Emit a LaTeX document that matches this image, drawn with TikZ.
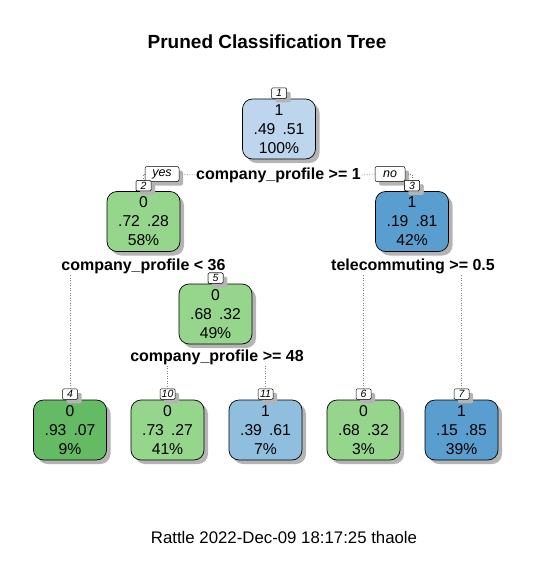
\documentclass[tikz,border=0pt]{standalone}
\usepackage{fontspec}
\setmainfont{Liberation Sans}
\usetikzlibrary{shadows}
\definecolor{bluelight}{RGB}{189,214,238}
\definecolor{bluemid}{RGB}{143,190,222}
\definecolor{bluedark}{RGB}{90,158,207}
\definecolor{greenlight}{RGB}{150,214,140}
\definecolor{greendark}{RGB}{100,187,100}
\definecolor{shadowgray}{RGB}{180,180,180}
\tikzset{
  shad/.style={drop shadow={shadow xshift=4pt, shadow yshift=-4pt, fill=shadowgray, opacity=1}},
  tnode/.style={draw=black, line width=0.7pt, rounded corners=10pt, minimum width=73pt,
    minimum height=60pt, align=center, inner sep=0pt, shad,
    font=\fontsize{15.7}{19}\selectfont},
  numbox/.style={draw=black, line width=0.5pt, fill=white, rounded corners=1.2pt, inner sep=0pt,
    minimum width=15pt, minimum height=10.5pt, anchor=south, shad,
    font=\fontsize{10.5}{10.5}\selectfont\itshape},
  yesno/.style={draw=black, line width=0.5pt, fill=white, rounded corners=2pt, inner sep=0pt,
    minimum height=15pt, font=\fontsize{12.5}{12.5}\selectfont\itshape, shad},
  splitlab/.style={font=\fontsize{16}{17}\selectfont\bfseries, inner sep=1pt},
  conn/.style={draw=gray, line width=0.7pt, dash pattern=on 0.7pt off 1.8pt},
}
\begin{document}
\begin{tikzpicture}[x=1pt,y=-1pt]
\useasboundingbox (0,0) rectangle (534,570);
\node[font=\fontsize{19}{22}\selectfont\bfseries] (title) at (267,42) {Pruned Classification Tree};
\node[font=\fontsize{16.8}{19}\selectfont] (footer) at (284,537) {Rattle 2022-Dec-09 18:17:25 thaole};

% nodes
\node[tnode, fill=bluelight] (n1) at (279,129) {1\\.49\hspace{0.45em}.51\\100\%};
\node[numbox] (k1) at (n1.north) {1};
\node[tnode, fill=greenlight] (n2) at (143.5,221.5) {0\\.72\hspace{0.45em}.28\\58\%};
\node[numbox] (k2) at (n2.north) {2};
\node[tnode, fill=bluedark] (n3) at (412,221.5) {1\\.19\hspace{0.45em}.81\\42\%};
\node[numbox] (k3) at (n3.north) {3};
\node[tnode, fill=greenlight] (n5) at (215.5,314) {0\\.68\hspace{0.45em}.32\\49\%};
\node[numbox] (k5) at (n5.north) {5};
\node[tnode, fill=greendark] (n4) at (70,430) {0\\.93\hspace{0.45em}.07\\9\%};
\node[numbox] (k4) at (n4.north) {4};
\node[tnode, fill=greenlight] (n10) at (167.5,430) {0\\.73\hspace{0.45em}.27\\41\%};
\node[numbox] (k10) at (n10.north) {10};
\node[tnode, fill=bluemid] (n11) at (265.5,430) {1\\.39\hspace{0.45em}.61\\7\%};
\node[numbox] (k11) at (n11.north) {11};
\node[tnode, fill=greenlight] (n6) at (363.5,430) {0\\.68\hspace{0.45em}.32\\3\%};
\node[numbox] (k6) at (n6.north) {6};
\node[tnode, fill=bluedark] (n7) at (461.5,430) {1\\.15\hspace{0.45em}.85\\39\%};
\node[numbox] (k7) at (n7.north) {7};

% split labels
\node[splitlab] (s1) at (278.5,175) {company\_profile >= 1};
\node[splitlab] (s2) at (143.5,266.5) {company\_profile < 36};
\node[splitlab] (s3) at (413,266.5) {telecommuting >= 0.5};
\node[splitlab] (s5) at (217,357) {company\_profile >= 48};

\node[yesno, minimum width=34pt] (yes) at (162,174) {yes};
\node[yesno, minimum width=30pt] (no) at (390,174) {no};

% connectors
\draw[conn] (s1.west) -- (yes.east);
\draw[conn] (yes.west) -| (k2.north);
\draw[conn] (s1.east) -- (no.west);
\draw[conn] (no.east) -| (k3.north);
\draw[conn] (s2.south -| k4.north) -- (k4.north);
\draw[conn] (s3.south -| k6.north) -- (k6.north);
\draw[conn] (s3.south -| k7.north) -- (k7.north);
\draw[conn] (s5.south -| k10.north) -- (k10.north);
\draw[conn] (s5.south -| k11.north) -- (k11.north);

% number boxes drawn again above labels and connectors
\node[numbox, anchor=center] (k2b) at (k2) {2};
\node[numbox, anchor=center] (k3b) at (k3) {3};
\node[numbox, anchor=center] (k5b) at (k5) {5};
\end{tikzpicture}
\end{document}
